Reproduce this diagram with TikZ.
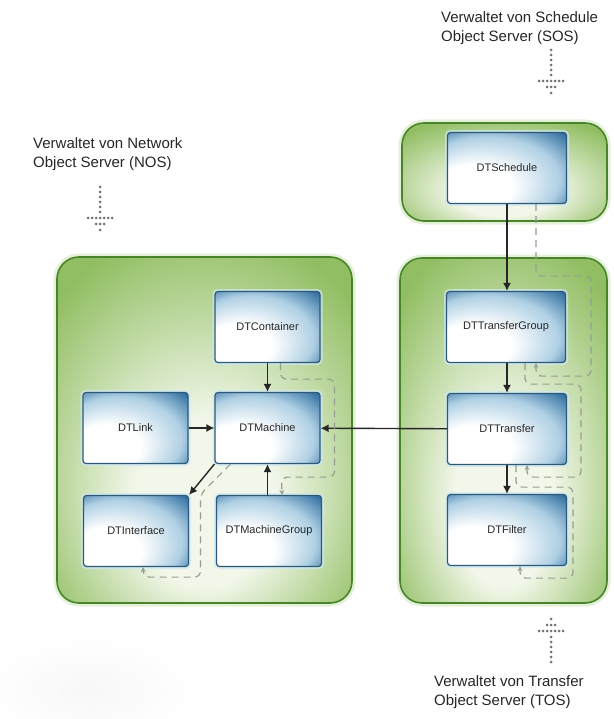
\documentclass[tikz,border=0pt]{standalone}
\usepackage{fontspec}
\setmainfont{Liberation Sans}
\usetikzlibrary{arrows.meta}

\definecolor{boxblue}{RGB}{48,110,160}
\definecolor{boxmid}{RGB}{175,208,228}
\definecolor{boxedge}{RGB}{45,88,118}
\definecolor{boxtext}{RGB}{40,40,40}
\definecolor{boxhalo}{RGB}{205,232,244}
\definecolor{panelgreen}{RGB}{145,190,98}
\definecolor{panellight}{RGB}{242,247,234}
\definecolor{paneledge}{RGB}{72,132,42}
\definecolor{panelhalo}{RGB}{210,230,190}
\definecolor{flowgray}{RGB}{150,158,145}
\definecolor{dotgray}{RGB}{115,115,115}

\pgfdeclareradialshading{boxglow}{\pgfpoint{-20bp}{-20bp}}{color(0bp)=(white); color(16bp)=(white); color(30bp)=(boxmid); color(40bp)=(boxblue); color(50bp)=(boxblue)}
\pgfdeclareradialshading{panelglow}{\pgfpoint{0bp}{-14bp}}{color(0bp)=(panellight); color(12bp)=(panellight); color(34bp)=(panelgreen); color(50bp)=(panelgreen)}

\tikzset{
  panel/.style={draw=paneledge, line width=1.6pt, rounded corners=22pt,
    shade, shading=panelglow,
    preaction={draw=panelhalo, line width=7pt, opacity=.6}},
  dtbox/.style={draw=boxedge, line width=1.2pt, rounded corners=3pt,
    shade, shading=boxglow, minimum width=105pt, minimum height=71pt,
    inner sep=0pt, text=boxtext, font=\fontsize{11}{13}\selectfont,
    preaction={draw=boxhalo, line width=5pt, opacity=.7}},
  wide/.style={minimum width=119pt},
  link/.style={draw=black!85, line width=1.4pt, -{Latex[length=8pt,width=8pt]}},
  flow/.style={draw=flowgray, line width=1.2pt, dash pattern=on 7pt off 5pt,
    rounded corners=6pt, -{Stealth[length=5pt,width=5pt]}},
  note/.style={align=left, inner sep=0pt, text=black!85,
    font=\fontsize{15}{18.5}\selectfont},
  dotarrow/.pic={
    \foreach \y in {0,5,...,25}
      \fill[dotgray] (0,\y) circle (1.5pt);
    \foreach \dx in {-12,-8,...,12}
      \fill[dotgray] (\dx,31) circle (1.5pt);
    \foreach \dx in {-4,0,4}
      \fill[dotgray] (\dx,37) circle (1.5pt);
    \fill[dotgray] (0,43) circle (1.5pt);
  }
}

\begin{document}
\begin{tikzpicture}[x=1pt,y=-1pt]
  \useasboundingbox (0,0) rectangle (613,719);
  % soft haze, lower left
  \shade[inner color=black!3, outer color=white] (90,690) ellipse (110pt and 55pt);

  % server panels
  \draw[panel] (57,257) rectangle (352,603);
  \draw[panel] (400,258) rectangle (607,603);
  \draw[panel] (402,123) rectangle (607,221);

  % NOS objects
  \node[dtbox] (container) at (267.5,327) {DTContainer};
  \node[dtbox] (link) at (135.5,428) {DTLink};
  \node[dtbox] (machine) at (267.5,428) {DTMachine};
  \node[dtbox] (iface) at (136,531) {DTInterface};
  \node[dtbox] (mgroup) at (269,531) {DTMachineGroup};

  % SOS / TOS objects
  \node[dtbox,wide] (sched) at (507,168) {DTSchedule};
  \node[dtbox,wide] (tgroup) at (506,327) {DTTransferGroup};
  \node[dtbox,wide] (transfer) at (507,429) {DTTransfer};
  \node[dtbox,wide] (filter) at (507,530) {DTFilter};

  % references
  \draw[link] (container) -- (machine);
  \draw[link] (link) -- (machine);
  \draw[link] (mgroup.north -| machine) -- (machine);
  \draw[link] (machine.south west) -- (iface.north east);
  \draw[link] (transfer) -- (machine);
  \draw[link] (sched) -- (tgroup.north -| sched);
  \draw[link] (tgroup.south -| transfer) -- (transfer);
  \draw[link] (transfer) -- (filter);

  % loading order
  \draw[flow] ([xshift=29pt]sched.south) -- ++(0,72) -- ++(55,0) -- ++(0,100)
    -- ++(-55,0) -- ([xshift=29pt]sched.south |- tgroup.south);
  \draw[flow] ([xshift=19pt]tgroup.south) -- ++(0,21) -- ++(56,0) -- ++(0,93)
    -- ++(-54,0) -- ([xshift=20pt]transfer.south);
  \draw[flow] ([xshift=9pt]transfer.south) -- ++(0,22) -- ++(57,0) -- ++(0,91)
    -- ++(-53,0) -- ([xshift=13pt]filter.south);
  \draw[flow] ([xshift=13pt]container.south) -- ++(0,16) -- ++(54,0) -- ++(0,98)
    -- ++(-53,0) -- ([xshift=13pt]mgroup.north);
  \draw[flow] ([xshift=-37pt]machine.south) -- ++(-30,30) -- ++(0,83)
    -- ++(-57,0) -- ([xshift=7pt]iface.south);

  % managing servers
  \node[note, anchor=west] (nosnote) at (33,154) {Verwaltet von Network\\Object Server (NOS)};
  \node[note, anchor=west] (sosnote) at (441,28) {Verwaltet von Schedule\\Object Server (SOS)};
  \node[note, anchor=west] (tosnote) at (434,692) {Verwaltet von Transfer\\Object Server (TOS)};
  \pic at (100,187) {dotarrow};
  \pic at (551,50) {dotarrow};
  \pic[yscale=-1] at (551,662) {dotarrow};
\end{tikzpicture}
\end{document}
